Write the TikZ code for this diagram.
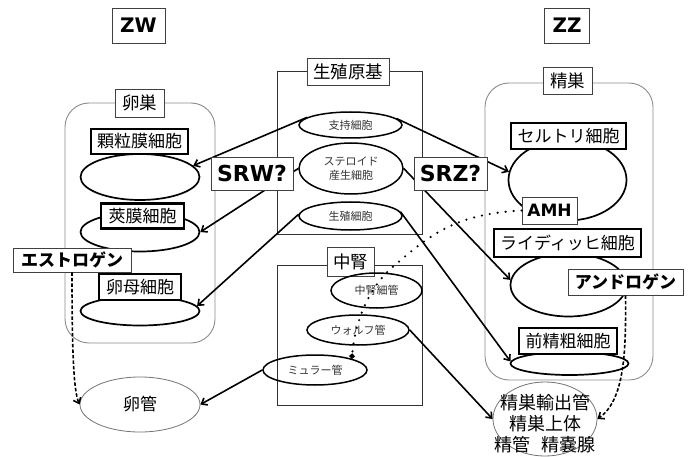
\documentclass[tikz,border=0pt]{standalone}
\usepackage{fontspec}
\setmainfont{DejaVu Sans}
\newfontfamily\jp{Noto Sans CJK JP}
\newfontfamily\lat{DejaVu Sans}
\usetikzlibrary{arrows.meta,shapes.geometric}
\tikzset{
  container/.style={draw=black!80, line width=0.9pt, inner sep=0pt},
  roundbox/.style={draw=black!45, line width=0.9pt, inner sep=0pt, rounded corners=24pt},
  lblbox/.style={draw=black!75, line width=0.9pt, fill=white, inner sep=0pt, font=\jp\fontsize{17.5}{17.5}\selectfont},
  latbox/.style={draw=black!75, line width=0.9pt, fill=white, inner sep=0pt, font=\lat\bfseries},
  cellbox/.style={draw=black, line width=2.6pt, fill=white, inner sep=0pt, font=\jp\fontsize{17}{17}\selectfont},
  hormone/.style={draw=black!75, line width=0.9pt, fill=white, inner sep=0pt, font=\jp\bfseries\fontsize{17}{17}\selectfont},
  cellell/.style={ellipse, draw=black, line width=1.7pt, inner sep=0pt},
  smallell/.style={ellipse, draw=black, line width=1.5pt, inner sep=0pt, align=center, text=black!80, font=\jp\fontsize{11}{14}\selectfont},
  thinell/.style={ellipse, draw=black!55, line width=0.8pt, inner sep=0pt},
  arr/.style={-{Straight Barb[length=5pt,width=8pt]}, line width=1.6pt},
  dasharr/.style={arr, dash pattern=on 3.5pt off 2pt},
  dotline/.style={line width=2.4pt, dash pattern=on 0pt off 8pt, line cap=round, -{Circle[length=5pt]}}
}
\begin{document}
\begin{tikzpicture}[x=1pt,y=1pt]
\useasboundingbox (0,0) rectangle (693,-457);

% containers
\node[container, minimum width=145pt, minimum height=163pt] (gr) at (349.5,-152.5) {};
\node[container, minimum width=145pt, minimum height=140pt] (mk) at (349.5,-335) {};
\node[roundbox, minimum width=150pt, minimum height=240pt] (ovary) at (140,-223) {};
\node[roundbox, minimum width=168pt, minimum height=297pt] (testis) at (569,-231.5) {};

% container labels
\node[lblbox, minimum width=82pt, minimum height=27pt] (grL) at (348,-71.5) {生殖原基};
\node[lblbox, minimum width=47pt, minimum height=29pt] (mkL) at (350.5,-261.5) {中腎};
\node[lblbox, minimum width=49pt, minimum height=28pt] (ovL) at (139.5,-103) {卵巣};
\node[lblbox, minimum width=49pt, minimum height=27pt] (teL) at (567.5,-80.5) {精巣};

% sex labels
\node[latbox, font=\lat\bfseries\fontsize{20}{20}\selectfont, minimum width=53pt, minimum height=35pt] (zw) at (138.5,-25.5) {ZW};
\node[latbox, font=\lat\bfseries\fontsize{20}{20}\selectfont, minimum width=45pt, minimum height=35pt] (zz) at (567,-25.5) {ZZ};

% gonad primordium cells
\node[smallell, minimum width=103pt, minimum height=26pt] (shiji) at (350.5,-125) {支持細胞};
\node[smallell, minimum width=104pt, minimum height=51pt] (steroid) at (351,-168.5) {ステロイド\\産生細胞};
\node[smallell, minimum width=103pt, minimum height=28pt] (seishoku) at (350.5,-216) {生殖細胞};

% mesonephros
\node[smallell, minimum width=91pt, minimum height=35pt] (chujin) at (376.5,-290.5) {中腎細管};
\node[smallell, minimum width=102pt, minimum height=30pt] (wolff) at (358,-330) {ウォルフ管};
\node[smallell, minimum width=104pt, minimum height=30pt] (muller) at (315,-370) {ミュラー管};

% ovary cells
\node[cellell, minimum width=119pt, minimum height=46pt] (granE) at (140,-177) {};
\node[cellell, minimum width=119pt, minimum height=39pt] (kyoE) at (140,-232) {};
\node[cellell, minimum width=119pt, minimum height=29pt] (ranE) at (140,-311) {};
\node[cellbox, minimum width=97pt, minimum height=25pt] (gran) at (139.5,-141.5) {顆粒膜細胞};
\node[cellbox, minimum width=83pt, minimum height=25pt] (kyo) at (142.5,-216) {莢膜細胞};
\node[cellbox, minimum width=82pt, minimum height=26pt] (ranbo) at (140,-287) {卵母細胞};

% testis cells
\node[cellell, minimum width=118pt, minimum height=81pt] (sertE) at (567.5,-180) {};
\node[cellell, minimum width=116pt, minimum height=63pt] (leyE) at (568.5,-285) {};
\node[cellell, minimum width=118pt, minimum height=23pt] (zenE) at (569.5,-363.5) {};
\node[cellbox, minimum width=115pt, minimum height=26pt] (sert) at (568.5,-136) {セルトリ細胞};
\node[cellbox, minimum width=147pt, minimum height=28pt] (ley) at (567.5,-243) {ライディッヒ細胞};
\node[cellbox, minimum width=98pt, minimum height=26pt] (zen) at (568,-341) {前精粗細胞};

% ducts
\node[thinell, minimum width=120pt, minimum height=55pt, font=\jp\fontsize{17}{17}\selectfont] (rankan) at (140,-404.5) {卵管};
\node[thinell, minimum width=104pt, minimum height=74pt] (seisou) at (545,-419) {};
\node[align=center, inner sep=0pt, font=\jp\fontsize{18}{21}\selectfont] (seisouT) at (545,-424) {精巣輸出管\\精巣上体\\精管\hspace{0.6em}精嚢腺};

% arrows
\draw[arr] (shiji.170) -- (granE.12);
\draw[arr] (steroid.west) -- (kyoE.east);
\draw[arr] (seishoku.178) -- (ranE.5);
\draw[arr] (shiji.8) -- (sertE.172);
\draw[arr] (steroid.east) -- (leyE.175);
\draw[arr] (seishoku.5) -- (zenE.178);
\draw[arr] (wolff.east) -- (seisou.west);
\draw[arr] (muller.west) -- (rankan.east);

% boxes on top of arrows
\node[latbox, font=\lat\bfseries\fontsize{22}{22}\selectfont, minimum width=82pt, minimum height=33pt] (srw) at (252,-173.5) {SRW?};
\node[latbox, font=\lat\bfseries\fontsize{22}{22}\selectfont, minimum width=73pt, minimum height=33pt] (srz) at (450.5,-173.5) {SRZ?};
\node[latbox, font=\lat\bfseries\fontsize{17}{17}\selectfont, minimum width=55pt, minimum height=27pt] (amh) at (549.5,-210.5) {AMH};
\node[hormone, minimum width=118pt, minimum height=24pt] (estrogen) at (72,-260) {エストロゲン};
\node[hormone, minimum width=115pt, minimum height=26pt] (androgen) at (625.5,-282) {アンドロゲン};

% hormone effects
\draw[dotline] (amh.west) .. controls (455,-214) and (430,-235) .. (395,-265)
   .. controls (370,-285) and (355,-320) .. (muller.17);
\draw[dasharr] (estrogen.south) .. controls (72,-340) and (73,-390) .. (rankan.west);
\draw[dasharr] (androgen.south) .. controls (626,-350) and (625,-400) .. (seisou.east);
\end{tikzpicture}
\end{document}
